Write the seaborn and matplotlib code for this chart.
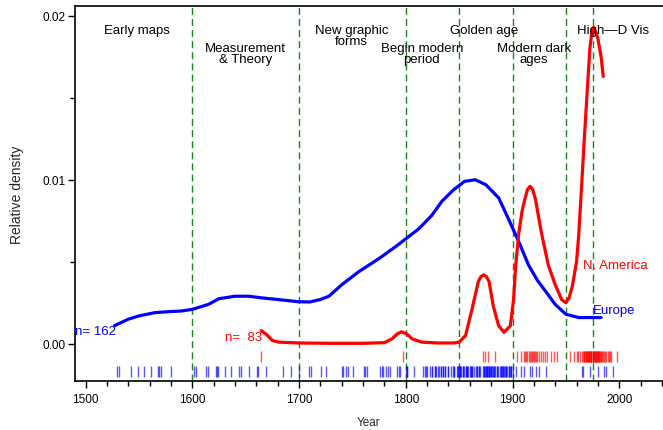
import numpy as np
import pandas as pd
import matplotlib
matplotlib.use("Agg")
import matplotlib.pyplot as plt
import seaborn as sns
from matplotlib.ticker import MultipleLocator, FormatStrFormatter

# ================================
# Data
# ================================

# Europe density curve
eu_year = [1527, 1540, 1550, 1565, 1576, 1590, 1600, 1615, 1625, 1640, 1653, 1665,
           1680, 1700, 1710, 1720, 1728, 1740, 1756, 1775, 1790, 1800, 1812, 1824,
           1834, 1845, 1855, 1865, 1875, 1887, 1897, 1906, 1915, 1923, 1931, 1940,
           1950, 1962, 1972, 1983]
eu_dens = [0.0011, 0.0015, 0.0017, 0.0019, 0.00195, 0.0020, 0.0021, 0.0024, 0.00275,
           0.0029, 0.0029, 0.0028, 0.0027, 0.00256, 0.00255, 0.0027, 0.0029, 0.0036,
           0.0044, 0.0052, 0.0059, 0.0064, 0.0070, 0.0078, 0.0087, 0.0094, 0.0099,
           0.0100, 0.0097, 0.0089, 0.0075, 0.0062, 0.0048, 0.0039, 0.0032, 0.0024,
           0.0018, 0.0016, 0.0016, 0.0016]

# N. America density curve
na_year = [1664.5, 1669, 1675, 1681, 1700, 1730, 1760, 1780, 1787, 1792, 1796, 1801,
           1806, 1815, 1830, 1845, 1850, 1856, 1862, 1868, 1870.5, 1873, 1875.5, 1878,
           1882, 1887, 1892, 1898, 1901, 1903, 1906, 1909, 1911.5, 1914, 1916.5, 1919,
           1921.5, 1927, 1933.5, 1940, 1946, 1950, 1953, 1956, 1960, 1962, 1964,
           1967, 1969.5, 1972.5, 1974.5, 1976, 1978, 1980, 1983, 1985]
na_dens = [0.0008, 0.0006, 0.0002, 0.0001, 0.00005, 0.00003, 0.00003, 0.00007, 0.0003,
           0.0006, 0.00073, 0.0006, 0.0003, 0.0001, 0.00005, 0.00005, 0.0001, 0.0005,
           0.0021, 0.0038, 0.0041, 0.0042, 0.0041, 0.0038, 0.0023, 0.0011, 0.0007,
           0.0011, 0.0027, 0.0048, 0.0068, 0.0081, 0.0088, 0.0094, 0.0096, 0.0094,
           0.0088, 0.0068, 0.0048, 0.0036, 0.0027, 0.0025, 0.0028, 0.0035, 0.0050,
           0.0066, 0.0088, 0.0122, 0.0149, 0.0180, 0.0191, 0.0193, 0.0190, 0.0186,
           0.0175, 0.0163]

# rug values (years of the events)
eu_rug = [1529, 1531, 1543, 1549, 1555, 1561, 1568, 1569, 1571, 1580,
          1602, 1603, 1613, 1615, 1622, 1623, 1624, 1631, 1636, 1644, 1646, 1653,
          1661, 1662, 1669, 1685, 1692,
          1700, 1709, 1711, 1721, 1725, 1740, 1741, 1744, 1746, 1751, 1761, 1762,
          1764, 1776, 1778, 1779, 1781, 1783, 1785, 1792,
          1794, 1795, 1800, 1801, 1801, 1808, 1816, 1818, 1819, 1820, 1823, 1825,
          1825, 1827, 1827, 1828, 1830, 1831, 1833, 1833, 1835, 1835, 1837, 1837,
          1840, 1840, 1842, 1844, 1845, 1845, 1848, 1849, 1849, 1850, 1851, 1851,
          1852, 1854, 1854, 1855, 1856, 1856, 1857, 1857, 1858, 1860, 1861, 1861,
          1862, 1862, 1864, 1866, 1867, 1867, 1869, 1869, 1870, 1872, 1873, 1873,
          1874, 1875, 1875, 1876, 1876, 1877, 1878, 1878, 1879, 1880, 1880, 1881,
          1882, 1883, 1883, 1884, 1885, 1885, 1886, 1888, 1889, 1889, 1890, 1891,
          1891, 1892, 1893, 1894, 1894, 1895, 1897, 1897, 1898, 1899, 1899, 1900,
          1903, 1908, 1911, 1916, 1918, 1922, 1925, 1931,
          1965, 1966, 1973, 1980, 1986, 1988, 1994]
na_rug = [1664.5, 1797,
          1872, 1874, 1877, 1884,
          1904, 1908, 1911, 1912, 1913, 1914, 1915, 1916, 1917, 1918, 1919, 1920,
          1921, 1922, 1923, 1925, 1927, 1929, 1930, 1932, 1936, 1939, 1942,
          1954, 1958, 1960, 1961, 1963, 1965,
          1966, 1967, 1967, 1968, 1969, 1969, 1970, 1970, 1971, 1971, 1972, 1972,
          1973, 1973, 1974, 1974, 1974, 1975, 1975, 1975, 1976, 1976, 1977, 1977,
          1978, 1978, 1979, 1979, 1980, 1980, 1981, 1981, 1982, 1983, 1983, 1984,
          1985, 1986, 1987, 1988, 1989, 1990, 1991, 1992,
          1998]

# period boundaries and labels
period_lines = [1600, 1700, 1800, 1850, 1900, 1950, 1975]
period_labels = ["Early maps", "Measurement\n& Theory", "New graphic\nforms",
                 "Begin modern\nperiod", "Golden age", "Modern dark\nages",
                 "High\u2014D Vis"]

# label placement (year, density at first line)
label_x = [1548, 1650, 1749, 1815, 1873, 1920, 1994]
label_y = [0.0195, 0.0184, 0.0195, 0.0184, 0.0195, 0.0184, 0.0195]

# ================================
# Plot
# ================================
sns.set_style("ticks")
plt.rcParams['font.family'] = ['Liberation Sans', 'DejaVu Sans']

fig = plt.figure(figsize=(6.63, 4.31), dpi=100)
ax = fig.add_axes([0.113, 0.114, 0.887, 0.870])

for yr in period_lines:
    ax.axvline(yr, color="#1a861a", lw=1.0, ls=(0, (5, 3)), zorder=1)

eu = pd.DataFrame({"Year": eu_year, "Density": eu_dens})
na = pd.DataFrame({"Year": na_year, "Density": na_dens})
sns.lineplot(data=eu, x="Year", y="Density", color="#0000ff", lw=2.3, ax=ax, zorder=3)
sns.lineplot(data=na, x="Year", y="Density", color="#ff0000", lw=2.3, ax=ax, zorder=3)

# rugs
ax.vlines(eu_rug, -0.00201, -0.00134, color="#0000ff", lw=1.0, alpha=0.65, zorder=2)
ax.vlines(na_rug, -0.00110, -0.00043, color="#ff0000", lw=1.0, alpha=0.65, zorder=2)

for txt, x, y in zip(period_labels, label_x, label_y):
    ax.text(x, y, txt, ha="center", va="top", fontsize=9.5, linespacing=0.85,
            color="black", zorder=4)

ax.text(1490.5, 0.0008, "n= 162", color="#0000ff", fontsize=9.5, ha="left", va="center")
ax.text(1665, 0.00043, "n=  83", color="#ff0000", fontsize=9.5, ha="right", va="center")
ax.text(1966, 0.0048, "N. America", color="#ff0000", fontsize=9.5, ha="left", va="center")
ax.text(1975.3, 0.00207, "Europe", color="#0000ff", fontsize=9.5, ha="left", va="center")

ax.set_xlim(1490, 2041)
ax.set_ylim(-0.00226, 0.0206)
ax.xaxis.set_major_locator(MultipleLocator(100))
ax.xaxis.set_minor_locator(MultipleLocator(20))
ax.yaxis.set_major_locator(MultipleLocator(0.01))
ax.yaxis.set_minor_locator(MultipleLocator(0.005))
ax.yaxis.set_major_formatter(FormatStrFormatter("%.2f"))
ax.set_xticks([1500, 1600, 1700, 1800, 1900, 2000])

ax.tick_params(axis="both", which="major", labelsize=8.5, length=5, width=1, color="black",
               labelcolor="black")
ax.tick_params(axis="both", which="minor", length=3.5, width=1, color="black")
ax.tick_params(axis="x", pad=4)
ax.tick_params(axis="y", pad=2)

ax.set_xlabel("Year", fontsize=8.5, labelpad=8)
ax.set_ylabel("Relative density", fontsize=10, labelpad=13)

for side in ["left", "bottom", "top"]:
    ax.spines[side].set_visible(True)
    ax.spines[side].set_color("black")
    ax.spines[side].set_linewidth(1.2)
ax.spines["right"].set_visible(False)

fig.savefig("out.png", dpi=100)
